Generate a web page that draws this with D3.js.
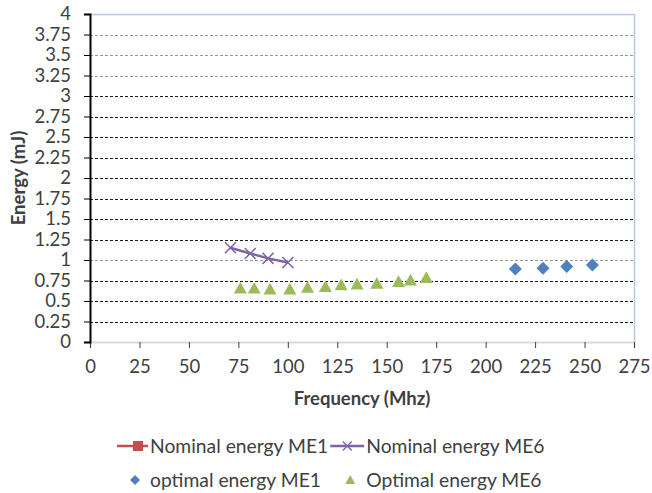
<!DOCTYPE html>
<html><head><meta charset="utf-8">
<script src="https://cdn.jsdelivr.net/npm/d3@7"></script>
<style>
body{margin:0;background:#fff;}
text{font-family:Lato,"Open Sans",sans-serif;fill:#404040;}
</style></head>
<body>
<svg id="c" width="652" height="493"></svg>
<script>
const xTicks=[0,25,50,75,100,125,150,175,200,225,250,275];
const yTicks=[0,0.25,0.5,0.75,1,1.25,1.5,1.75,2,2.25,2.5,2.75,3,3.25,3.5,3.75,4];
const nominalME1X=[];
const nominalME1Y=[];
const nominalME6X=[71,81,90,100];
const nominalME6Y=[1.15,1.08,1.02,0.97];
const optimalME1X=[215,229,241,254];
const optimalME1Y=[0.89,0.90,0.92,0.94];
const optimalME6X=[76,83,91,101,110,119,127,135,145,156,162,170];
const optimalME6Y=[0.66,0.66,0.65,0.65,0.67,0.68,0.70,0.71,0.72,0.74,0.76,0.79];
const legendLabels=["Nominal energy ME1","Nominal energy ME6","optimal energy ME1","Optimal energy ME6"];
const colors={red:"#C0504D",purple:"#8064A2",blue:"#4F81BD",green:"#9BBB59"};

const svg=d3.select("#c");
const L=90,R=634,T=14,B=342;
const x=d3.scaleLinear().domain([0,275]).range([L,R]);
const y=d3.scaleLinear().domain([0,4]).range([B,T]);
const fs=18.5, lfs=19.3;

// gridlines
const light=new Set([3.25,3.5,3.75,1]);
svg.append("g").selectAll("line").data(yTicks.filter(d=>d>0&&d<4)).join("line")
  .attr("x1",L).attr("x2",R).attr("y1",d=>Math.round(y(d))+0.5).attr("y2",d=>Math.round(y(d))+0.5)
  .attr("stroke",d=>light.has(d)?"#9a9a9a":"#1a1a1a").attr("stroke-width",1).attr("stroke-dasharray","3,2");
// border top/right
svg.append("line").attr("x1",L).attr("x2",R).attr("y1",T+0.5).attr("y2",T+0.5).attr("stroke","#b4c7e7").attr("stroke-width",1.5);
svg.append("line").attr("x1",R+0.5).attr("x2",R+0.5).attr("y1",T).attr("y2",B).attr("stroke","#b4c7e7").attr("stroke-width",1.5);

// x axis
const xa=svg.append("g").attr("transform",`translate(0,${B})`)
  .call(d3.axisBottom(x).tickValues(xTicks).tickSize(6).tickPadding(12).tickFormat(d3.format("d")));
xa.select(".domain").attr("stroke","#d9d9d9").attr("stroke-width",2);
xa.selectAll(".tick line").attr("stroke","#404040");
xa.selectAll(".tick text").attr("font-size",fs).attr("fill","#404040").style("font-family","Lato");
// y axis
const ya=svg.append("g").attr("transform",`translate(${L},0)`)
  .call(d3.axisLeft(y).tickValues(yTicks).tickSize(6).tickPadding(13).tickFormat(d=>String(d)));
ya.select(".domain").attr("stroke","#000").attr("stroke-width",2);
ya.selectAll(".tick line").attr("stroke","#000");
ya.selectAll(".tick text").attr("font-size",fs).attr("fill","#404040").style("font-family","Lato");

// titles
svg.append("text").attr("x",(L+R)/2).attr("y",405).attr("text-anchor","middle")
  .attr("font-size",fs).attr("font-weight","bold").text("Frequency (Mhz)");
svg.append("text").attr("transform",`translate(25,${(T+B)/2}) rotate(-90)`).attr("text-anchor","middle")
  .attr("font-size",fs).attr("font-weight","bold").text("Energy (mJ)");

function xPath(s){return `M${-s},${-s}L${s},${s}M${-s},${s}L${s},${-s}`;}
function diamond(s){return `M0,${-s}L${s},0L0,${s}L${-s},0Z`;}
function tri(s){return `M0,${-s}L${s},${s*0.8}L${-s},${s*0.8}Z`;}

// nominal ME1 (red)
const n1=d3.zip(nominalME1X,nominalME1Y);
svg.append("path").datum(n1).attr("fill","none").attr("stroke",colors.red).attr("stroke-width",2.5)
  .attr("d",d3.line().x(d=>x(d[0])).y(d=>y(d[1])));
// nominal ME6 (purple)
const n6=d3.zip(nominalME6X,nominalME6Y);
svg.append("path").datum(n6).attr("fill","none").attr("stroke",colors.purple).attr("stroke-width",2.5)
  .attr("d",d3.line().x(d=>x(d[0])).y(d=>y(d[1])));
svg.append("g").selectAll("path").data(n6).join("path")
  .attr("transform",d=>`translate(${x(d[0])},${y(d[1])})`).attr("d",xPath(5.5))
  .attr("stroke",colors.purple).attr("stroke-width",1.5).attr("fill","none");
// optimal ME1 diamonds
svg.append("g").selectAll("path").data(d3.zip(optimalME1X,optimalME1Y)).join("path")
  .attr("transform",d=>`translate(${x(d[0])},${y(d[1])})`).attr("d",diamond(6.5)).attr("fill",colors.blue);
// optimal ME6 triangles
svg.append("g").selectAll("path").data(d3.zip(optimalME6X,optimalME6Y)).join("path")
  .attr("transform",d=>`translate(${x(d[0])},${y(d[1])+0.5})`).attr("d",tri(6.5)).attr("fill",colors.green);

// legend
const lg=svg.append("g");
// row 1
lg.append("line").attr("x1",117).attr("x2",148).attr("y1",446).attr("y2",446).attr("stroke",colors.red).attr("stroke-width",2.5);
lg.append("rect").attr("x",133).attr("y",441).attr("width",10).attr("height",10).attr("fill",colors.red);
const t1=lg.append("text").attr("x",150).attr("y",446).attr("dy","0.35em").attr("font-size",lfs).text(legendLabels[0]);
const e1=150+t1.node().getComputedTextLength()+2;
lg.append("line").attr("x1",e1).attr("x2",e1+34).attr("y1",446).attr("y2",446).attr("stroke",colors.purple).attr("stroke-width",2.5);
lg.append("path").attr("transform",`translate(${e1+17},446)`).attr("d",xPath(4.5)).attr("stroke",colors.purple).attr("stroke-width",1.3).attr("fill","none");
lg.append("text").attr("x",e1+36).attr("y",446).attr("dy","0.35em").attr("font-size",lfs).text(legendLabels[1]);
// row 2
lg.append("path").attr("transform","translate(135,480)").attr("d",diamond(5)).attr("fill",colors.blue);
lg.append("text").attr("x",150).attr("y",480).attr("dy","0.35em").attr("font-size",lfs).text(legendLabels[2]);
lg.append("path").attr("transform",`translate(${e1+20},480)`).attr("d",tri(5)).attr("fill",colors.green);
lg.append("text").attr("x",e1+36).attr("y",480).attr("dy","0.35em").attr("font-size",lfs).text(legendLabels[3]);
</script>
</body></html>
